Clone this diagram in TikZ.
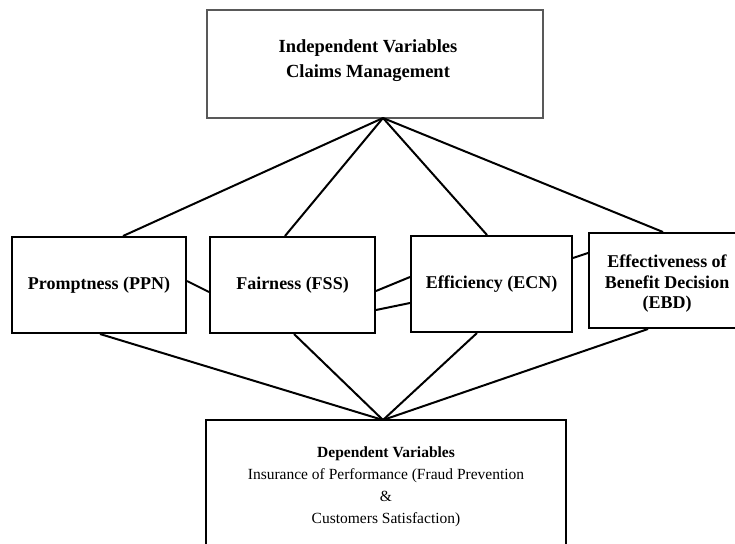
\documentclass[tikz,border=0pt]{standalone}
\usepackage{fontspec}
\setmainfont{Liberation Serif}
\usetikzlibrary{calc}
\begin{document}
\begin{tikzpicture}[x=1pt,y=-1pt,
  box/.style={draw=black,line width=2pt,fill=white,inner sep=0pt,align=center,
    font=\bfseries\fontsize{18}{21}\selectfont},
  link/.style={draw=black,line width=2pt}]
\useasboundingbox (0,0) rectangle (735,543);
\clip (0,0) rectangle (735,543);
\fill[white] (0,0) rectangle (735,543);
% boxes
\node[box,draw=black!65,line width=1.8pt,minimum width=336pt,minimum height=108pt,
  font=\bfseries\fontsize{18.5}{25}\selectfont] (top) at (375,64)
  {\hspace*{-14pt}Independent Variables\\\hspace*{-14pt}Claims Management\\[-14pt]\mbox{}};
\node[box,minimum width=174pt,minimum height=96pt] (ppn) at (99,285) {Promptness (PPN)};
\node[box,minimum width=165pt,minimum height=96pt] (fss) at (292.5,285) {Fairness (FSS)};
\node[box,minimum width=161pt,minimum height=96pt] (ecn) at (491.5,284) {Efficiency (ECN)};
\node[box,minimum width=156pt,minimum height=95pt,
  font=\bfseries\fontsize{18}{20.5}\selectfont] (ebd) at (667,280.5)
  {\raisebox{-8pt}[0pt][0pt]{\begin{tabular}{@{}c@{}}Effectiveness of\\Benefit Decision\\(EBD)\end{tabular}}};
\node[box,font=\fontsize{15.5}{22}\selectfont,minimum width=360pt,minimum height=134pt]
  (dep) at (386,487)
  {\textbf{Dependent Variables}\\Insurance of Performance (Fraud Prevention\\\&\\Customers Satisfaction)};
% apexes
\coordinate (ta) at (383,118);
\coordinate (ba) at (383,420);
% top fan
\draw[link] (ta) -- (ppn.north -| 123,0);
\draw[link] (ta) -- (fss.north -| 285,0);
\draw[link] (ta) -- (ecn.north -| 487,0);
\draw[link] (ta) -- (ebd.north -| 663,0);
% bottom fan
\draw[link] (ba) -- (ppn.south -| 100,0);
\draw[link] (ba) -- (fss.south -| 294,0);
\draw[link] (ba) -- (ecn.south -| 477,0);
\draw[link] (ba) -- (ebd.south -| 648,0);
% side links
\draw[link] (ppn.east |- 0,281) -- (fss.west |- 0,292);
\draw[link] (fss.east |- 0,291) -- (ecn.west |- 0,277);
\draw[link] (fss.east |- 0,310) -- (ecn.west |- 0,303);
\draw[link] (ecn.east |- 0,258) -- (ebd.west |- 0,253);
\end{tikzpicture}
\end{document}
